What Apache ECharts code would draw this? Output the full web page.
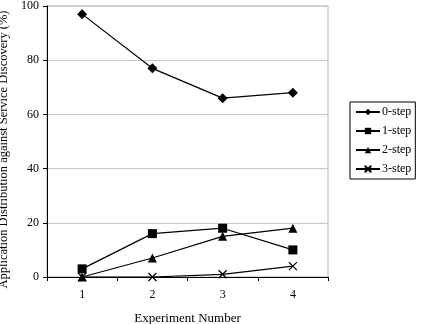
<!DOCTYPE html>
<html>
<head>
<meta charset="utf-8">
<script src="https://cdn.jsdelivr.net/npm/echarts@6/dist/echarts.min.js"></script>
<style>
html,body{margin:0;padding:0;background:#fff;}
#main{width:423px;height:324px;}
</style>
</head>
<body>
<div id="main"></div>
<script>
var experiments = ['1', '2', '3', '4'];
var seriesNames = ['0-step', '1-step', '2-step', '3-step'];
var step0 = [97, 77, 66, 68];
var step1 = [3, 16, 18, 10];
var step2 = [0, 7, 15, 18];
var step3 = [0, 0, 1, 4];

var font = 'Liberation Serif, Times New Roman, serif';
var crossPath = 'path://M0,0L10,10M10,0L0,10';

function makeSeries(name, data, symbol, size){
	return {
		name: name,
		type: 'line',
		data: data,
		symbol: symbol,
		symbolSize: size,
		showAllSymbol: true,
		animation: false,
		lineStyle: {color: '#000', width: 1.2},
		itemStyle: {color: '#000', borderColor: '#000', borderWidth: symbol == crossPath ? 1.3 : 0}
	};
}

var myChart = echarts.init(document.getElementById('main'));
var option = {
	backgroundColor: '#fff',
	animation: false,
	textStyle: {fontFamily: font},
	grid: {left: 47, right: 95, top: 6, bottom: 47, show: true, borderColor: '#b0b0b0', borderWidth: 1, outerBoundsMode: 'none', containLabel: false},
	legend: {
		orient: 'vertical',
		left: 350,
		top: 102,
		data: seriesNames,
		borderColor: '#000',
		borderWidth: 1,
		padding: [4, 4, 4, 5],
		itemWidth: 24,
		itemHeight: 8,
		itemGap: 7,
		textStyle: {fontFamily: font, fontSize: 12, color: '#000', padding: [0, 0, 0, -3]}
	},
	xAxis: {
		type: 'category',
		data: experiments,
		boundaryGap: true,
		name: 'Experiment Number',
		nameLocation: 'middle',
		nameGap: 35,
		nameTextStyle: {fontFamily: font, fontSize: 13, color: '#000'},
		axisLine: {lineStyle: {color: '#000', width: 1}},
		axisTick: {show: true, length: 4, inside: false, lineStyle: {color: '#000'}},
		axisLabel: {fontFamily: font, fontSize: 12, color: '#000', margin: 12},
		splitLine: {show: false}
	},
	yAxis: {
		type: 'value',
		min: 0,
		max: 100,
		interval: 20,
		name: 'Application Distribution against Service Discovery (%)',
		nameLocation: 'middle',
		nameGap: 29,
		nameTextStyle: {fontFamily: font, fontSize: 12.5, color: '#000', padding: [0, 16, 0, 0]},
		axisLine: {show: true, lineStyle: {color: '#000', width: 1}},
		axisTick: {show: true, length: 4, lineStyle: {color: '#000'}},
		axisLabel: {fontFamily: font, fontSize: 12, color: '#000', margin: 8},
		splitLine: {lineStyle: {color: '#c8c8c8', width: 1}}
	},
	series: [
		makeSeries('0-step', step0, 'diamond', 10),
		makeSeries('1-step', step1, 'rect', 9),
		makeSeries('2-step', step2, 'triangle', 9),
		makeSeries('3-step', step3, crossPath, 8)
	]
};
myChart.setOption(option);
</script>
</body>
</html>
